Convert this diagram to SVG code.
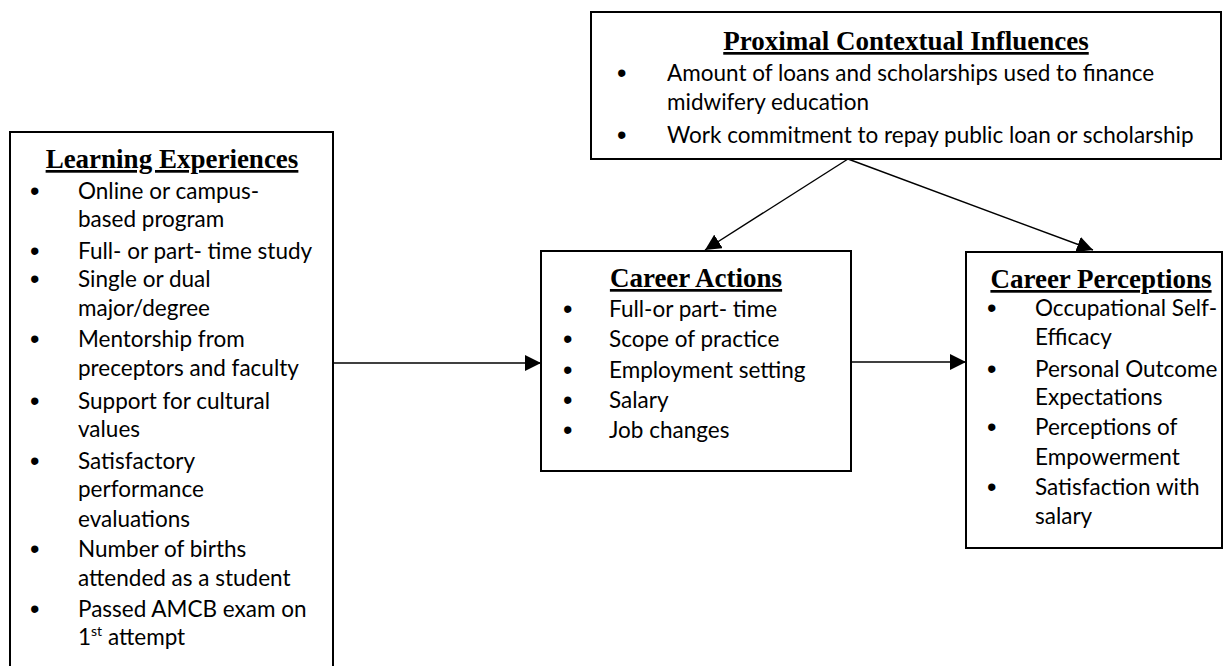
<svg xmlns="http://www.w3.org/2000/svg" width="1225" height="666" viewBox="0 0 1225 666">
<defs>
<style>
.box{fill:#fff;stroke:#000;stroke-width:2}
.title{font-family:"Liberation Serif","Times New Roman",serif;font-weight:bold;font-size:27px;text-decoration:underline;fill:#000}
.t{font-family:Lato,"Liberation Sans",sans-serif;font-size:22.5px;fill:#000}
.b{font-family:"Liberation Sans",Arial,sans-serif;font-size:27px;fill:#000}
.c{stroke:#000;stroke-width:1.4;fill:none}
</style>
<marker id="ah" markerUnits="userSpaceOnUse" markerWidth="18" markerHeight="16" refX="16" refY="8" orient="auto">
<path d="M0,0 L16,8 L0,16 Z" fill="#000"/>
</marker>
</defs>
<rect width="1225" height="666" fill="#fff"/>

<g id="learning">
<rect class="box" x="10" y="132" width="323" height="545"/>
<text class="title" x="172" y="168" text-anchor="middle">Learning Experiences</text>
<text class="b" x="30" y="200">•</text><text class="t" x="78" y="199">Online or campus-</text>
<text class="t" x="78" y="227">based program</text>
<text class="b" x="30" y="260">•</text><text class="t" x="78" y="259">Full- or part- time study</text>
<text class="b" x="30" y="288">•</text><text class="t" x="78" y="287">Single or dual</text>
<text class="t" x="78" y="316">major/degree</text>
<text class="b" x="30" y="348">•</text><text class="t" x="78" y="347">Mentorship from</text>
<text class="t" x="78" y="376">preceptors and faculty</text>
<text class="b" x="30" y="410">•</text><text class="t" x="78" y="409">Support for cultural</text>
<text class="t" x="78" y="437">values</text>
<text class="b" x="30" y="470">•</text><text class="t" x="78" y="469">Satisfactory</text>
<text class="t" x="78" y="497">performance</text>
<text class="t" x="78" y="527">evaluations</text>
<text class="b" x="30" y="558">•</text><text class="t" x="78" y="557">Number of births</text>
<text class="t" x="78" y="586">attended as a student</text>
<text class="b" x="30" y="618">•</text><text class="t" x="78" y="617">Passed AMCB exam on</text>
<text class="t" x="78" y="645">1<tspan font-size="14" dy="-9">st</tspan><tspan dy="9"> attempt</tspan></text>
</g>

<g id="proximal">
<rect class="box" x="591" y="12" width="630" height="147"/>
<text class="title" x="906" y="50" text-anchor="middle">Proximal Contextual Influences</text>
<text class="b" x="617" y="82">•</text><text class="t" x="667" y="81">Amount of loans and scholarships used to finance</text>
<text class="t" x="667" y="110">midwifery education</text>
<text class="b" x="617" y="144">•</text><text class="t" x="667" y="143">Work commitment to repay public loan or scholarship</text>
</g>

<g id="actions">
<rect class="box" x="541" y="251" width="310" height="220"/>
<text class="title" x="696" y="287" text-anchor="middle">Career Actions</text>
<text class="b" x="563" y="318">•</text><text class="t" x="609" y="317">Full-or part- time</text>
<text class="b" x="563" y="348">•</text><text class="t" x="609" y="347">Scope of practice</text>
<text class="b" x="563" y="379">•</text><text class="t" x="609" y="378">Employment setting</text>
<text class="b" x="563" y="409">•</text><text class="t" x="609" y="408">Salary</text>
<text class="b" x="563" y="439">•</text><text class="t" x="609" y="438">Job changes</text>
</g>

<g id="perceptions">
<rect class="box" x="966" y="252" width="256" height="296"/>
<text class="title" x="1101" y="288" text-anchor="middle">Career Perceptions</text>
<text class="b" x="987" y="317">•</text><text class="t" x="1035" y="316">Occupational Self-</text>
<text class="t" x="1035" y="345">Efficacy</text>
<text class="b" x="987" y="378">•</text><text class="t" x="1035" y="377">Personal Outcome</text>
<text class="t" x="1035" y="405">Expectations</text>
<text class="b" x="987" y="436">•</text><text class="t" x="1035" y="435">Perceptions of</text>
<text class="t" x="1035" y="465">Empowerment</text>
<text class="b" x="987" y="496">•</text><text class="t" x="1035" y="495">Satisfaction with</text>
<text class="t" x="1035" y="524">salary</text>
</g>

<g id="connectors">
<line class="c" x1="333" y1="363" x2="541" y2="363" marker-end="url(#ah)"/>
<line class="c" x1="851" y1="362" x2="966" y2="362" marker-end="url(#ah)"/>
<line class="c" x1="848" y1="159" x2="705" y2="250" marker-end="url(#ah)"/>
<line class="c" x1="848" y1="159" x2="1093" y2="250" marker-end="url(#ah)"/>
</g>
</svg>
